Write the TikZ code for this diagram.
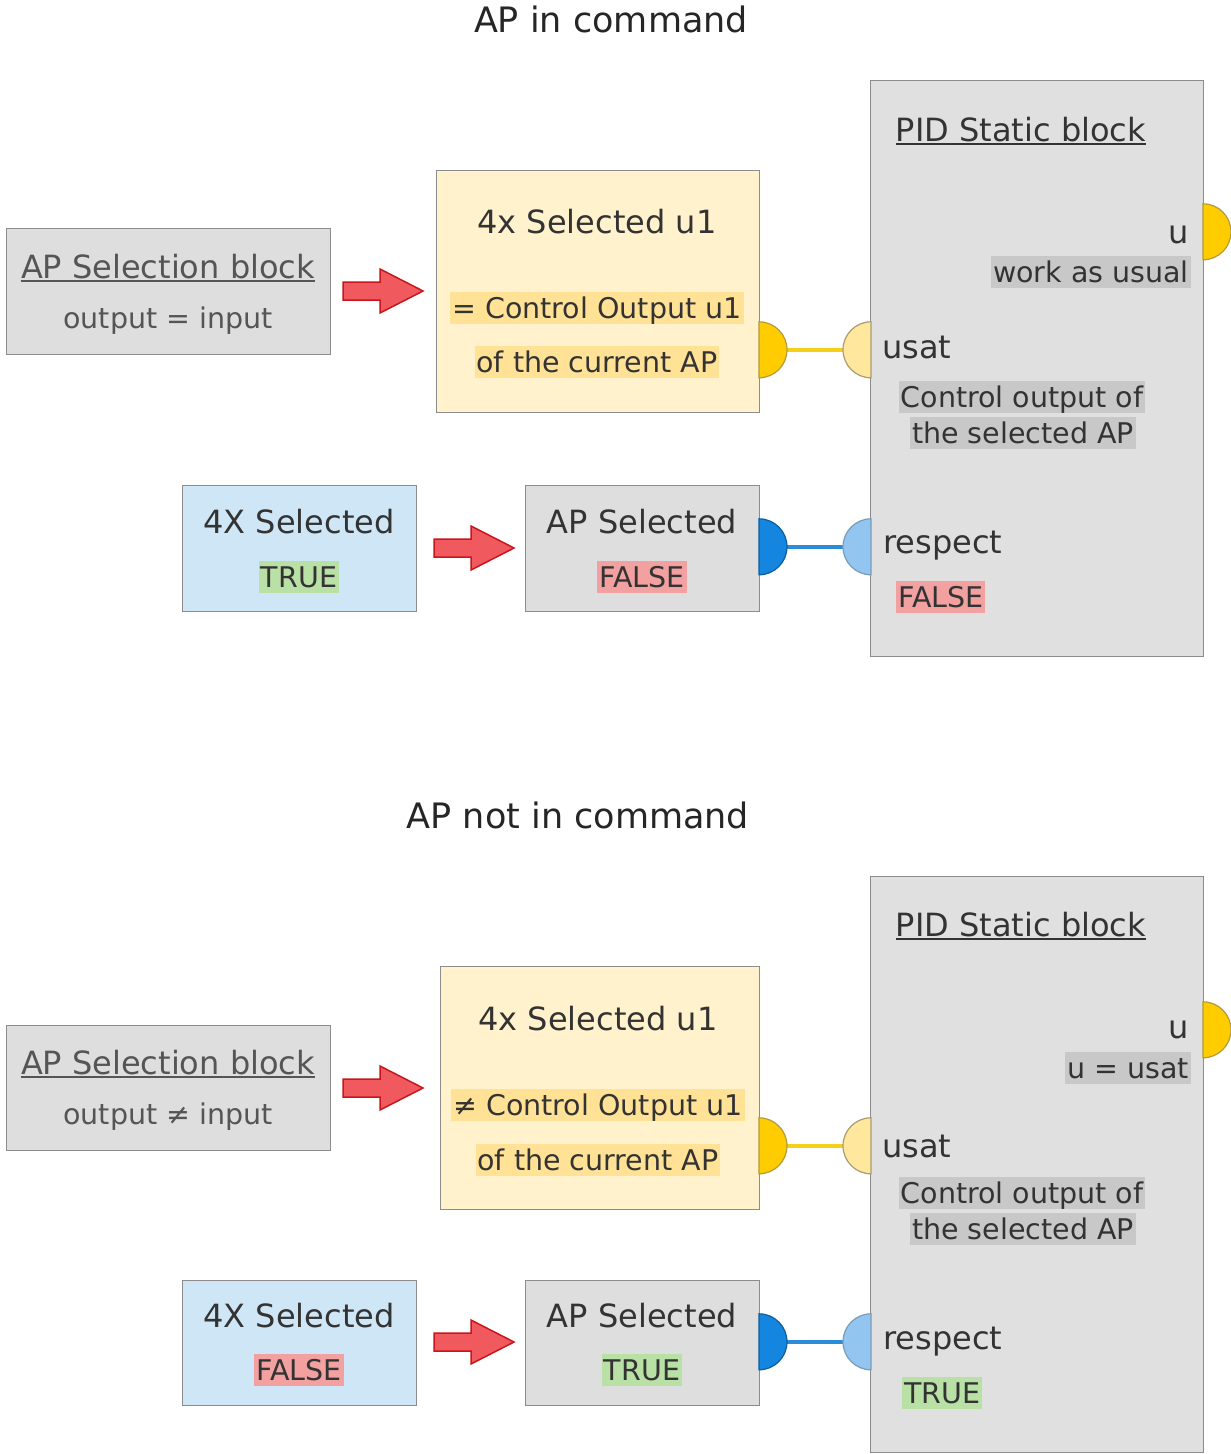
\documentclass[tikz,border=0pt]{standalone}
\usepackage{fontspec}
\setmainfont{DejaVu Sans}
\usetikzlibrary{calc}
\definecolor{gfill}{HTML}{DEDEDE}
\definecolor{gline}{HTML}{8C8C8C}
\definecolor{pidfill}{HTML}{E0E0E0}
\definecolor{yfill}{HTML}{FFF2CC}
\definecolor{hly}{HTML}{FFE296}
\definecolor{hlg}{HTML}{C8C8C8}
\definecolor{hlr}{HTML}{F2A0A0}
\definecolor{hlgreen}{HTML}{B9E0A5}
\definecolor{bfill}{HTML}{CFE6F7}
\definecolor{gold}{HTML}{FFCC00}
\definecolor{goldline}{HTML}{B59A3C}
\definecolor{lgold}{HTML}{FFE89E}
\definecolor{lgoldline}{HTML}{A89C70}
\definecolor{blued}{HTML}{1486E0}
\definecolor{bluel}{HTML}{92C6F0}
\definecolor{bluelline}{HTML}{7A9CB8}
\definecolor{blueline}{HTML}{2B8CD8}
\definecolor{yconnc}{HTML}{F5CF19}
\definecolor{txt}{HTML}{333333}
\definecolor{subtxt}{HTML}{555555}
\definecolor{arrred}{HTML}{F05A5E}
\definecolor{arrline}{HTML}{C8161D}
\newcommand{\blockarr}[2]{%
  \draw[redarr] (#1-80,#2-9) -- (#1-43,#2-9) -- (#1-43,#2-22) -- (#1,#2)
     -- (#1-43,#2+22) -- (#1-43,#2+9) -- (#1-80,#2+9) -- cycle;}
\begin{document}
\begin{tikzpicture}[x=1pt,y=-1pt,
  box/.style={draw=gline, line width=1.3pt, inner sep=0, anchor=north west},
  main/.style={font=\fontsize{32}{38}\selectfont, text=txt, inner sep=0, anchor=base},
  sub/.style={font=\fontsize{28.5}{34}\selectfont, text=txt, inner sep=0, anchor=base},
  titletext/.style={font=\fontsize{35}{42}\selectfont, text=black!85, inner sep=0, anchor=base},
  hl/.style={inner xsep=2pt, inner ysep=0pt, text height=26pt, text depth=6pt},
  uline/.style={draw=txt, line width=1.3pt},
  port/.style={circle, minimum size=56pt, inner sep=0},
  redarr/.style={fill=arrred, draw=arrline, line width=1.5pt, line join=miter},
  yconn/.style={draw=yconnc, line width=3.5pt},
  bconn/.style={draw=blueline, line width=3.5pt},
  goldR/.style={fill=gold, draw=goldline, line width=1.2pt},
  goldL/.style={fill=lgold, draw=lgoldline, line width=1.2pt},
  blueR/.style={fill=blued, draw=blued!70!black, line width=1.2pt},
  blueL/.style={fill=bluel, draw=bluelline, line width=1.2pt}]
\useasboundingbox[fill=white] (0,0) rectangle (1231,1454);

% ================= TOP HALF =================
\node[titletext] (t0) at (611,32) {AP in command};

% AP selection block
\node[box, fill=gfill, minimum width=324pt, minimum height=126pt] (tSel) at (6,228) {};
\node[main, text=subtxt] (tSelT) at (168,278) {AP Selection block};
\draw[uline, draw=subtxt] ($(tSelT.base west)+(0,3)$) -- ($(tSelT.base east)+(0,3)$);
\node[sub, text=subtxt] (tSelS) at (168,328) {output = input};
\blockarr{423}{291}

% yellow block
\node[box, fill=yfill, minimum width=323pt, minimum height=242pt] (tY) at (436,170) {};
\node[main] (tYT) at (597,233) {4x Selected u1};
\node[sub, hl, fill=hly] (tYA) at (597,318) {= Control Output u1};
\node[sub, hl, fill=hly] (tYB) at (597,372) {of the current AP};

% PID block
\node[box, fill=pidfill, minimum width=333pt, minimum height=576pt] (tP) at (870,80) {};
\node[main] (tPT) at (1021,141) {PID Static block};
\draw[uline] ($(tPT.base west)+(0,3)$) -- ($(tPT.base east)+(0,3)$);
\node[main, anchor=base east] (tPu) at (1189,243) {u};
\node[sub, hl, fill=hlg, anchor=base east] (tPw) at (1191,282) {work as usual};
\node[main, anchor=base west] (tPusat) at (882,358) {usat};
\node[sub, hl, fill=hlg] (tPc1) at (1022,407) {Control output of};
\node[sub, hl, fill=hlg] (tPc2) at (1023,443) {the selected AP};
\node[main, anchor=base west] (tPr) at (883,553) {respect};
\node[sub, hl, fill=hlr, anchor=base west] (tPf) at (896,607) {FALSE};

% 4X selected / AP selected
\node[box, fill=bfill, minimum width=234pt, minimum height=126pt] (tX) at (182,485) {};
\node[main] (tXT) at (299,533) {4X Selected};
\node[sub, hl, fill=hlgreen] (tXV) at (299,587) {TRUE};
\blockarr{514}{548}
\node[box, fill=gfill, minimum width=234pt, minimum height=126pt] (tA) at (525,485) {};
\node[main] (tAT) at (642,533) {AP Selected};
\node[sub, hl, fill=hlr] (tAV) at (642,587) {FALSE};

% ports and connectors
\node[port] (tYo) at (759,350) {};
\node[port] (tYi) at (871,350) {};
\node[port] (tPo) at (1203,232) {};
\node[port] (tBo) at (759,547) {};
\node[port] (tBi) at (871,547) {};
\draw[yconn] (tYo.east) -- (tYi.west);
\draw[bconn] (tBo.east) -- (tBi.west);
\draw[goldR] (tYo.north) arc[start angle=90, end angle=-90, radius=28pt] -- cycle;
\draw[goldL] (tYi.north) arc[start angle=90, end angle=270, radius=28pt] -- cycle;
\draw[goldR] (tPo.north) arc[start angle=90, end angle=-90, radius=28pt] -- cycle;
\draw[blueR] (tBo.north) arc[start angle=90, end angle=-90, radius=28pt] -- cycle;
\draw[blueL] (tBi.north) arc[start angle=90, end angle=270, radius=28pt] -- cycle;

% ================= BOTTOM HALF =================
\node[titletext] (b0) at (578,828) {AP not in command};

\node[box, fill=gfill, minimum width=324pt, minimum height=125pt] (bSel) at (6,1025) {};
\node[main, text=subtxt] (bSelT) at (168,1074) {AP Selection block};
\draw[uline, draw=subtxt] ($(bSelT.base west)+(0,3)$) -- ($(bSelT.base east)+(0,3)$);
\node[sub, text=subtxt] (bSelS) at (168,1124) {output ≠ input};
\blockarr{423}{1088}

\node[box, fill=yfill, minimum width=319pt, minimum height=243pt] (bY) at (440,966) {};
\node[main] (bYT) at (598,1030) {4x Selected u1};
\node[sub, hl, fill=hly] (bYA) at (598,1115) {≠ Control Output u1};
\node[sub, hl, fill=hly] (bYB) at (598,1170) {of the current AP};

\node[box, fill=pidfill, minimum width=333pt, minimum height=576pt] (bP) at (870,876) {};
\node[main] (bPT) at (1021,936) {PID Static block};
\draw[uline] ($(bPT.base west)+(0,3)$) -- ($(bPT.base east)+(0,3)$);
\node[main, anchor=base east] (bPu) at (1189,1038) {u};
\node[sub, hl, fill=hlg, anchor=base east] (bPw) at (1191,1078) {u = usat};
\node[main, anchor=base west] (bPusat) at (882,1157) {usat};
\node[sub, hl, fill=hlg] (bPc1) at (1022,1203) {Control output of};
\node[sub, hl, fill=hlg] (bPc2) at (1023,1239) {the selected AP};
\node[main, anchor=base west] (bPr) at (883,1349) {respect};
\node[sub, hl, fill=hlgreen, anchor=base west] (bPf) at (902,1403) {TRUE};

\node[box, fill=bfill, minimum width=234pt, minimum height=125pt] (bX) at (182,1280) {};
\node[main] (bXT) at (299,1327) {4X Selected};
\node[sub, hl, fill=hlr] (bXV) at (299,1380) {FALSE};
\blockarr{514}{1342}
\node[box, fill=gfill, minimum width=234pt, minimum height=125pt] (bA) at (525,1280) {};
\node[main] (bAT) at (642,1327) {AP Selected};
\node[sub, hl, fill=hlgreen] (bAV) at (642,1380) {TRUE};

\node[port] (bYo) at (759,1146) {};
\node[port] (bYi) at (871,1146) {};
\node[port] (bPo) at (1203,1030) {};
\node[port] (bBo) at (759,1342) {};
\node[port] (bBi) at (871,1342) {};
\draw[yconn] (bYo.east) -- (bYi.west);
\draw[bconn] (bBo.east) -- (bBi.west);
\draw[goldR] (bYo.north) arc[start angle=90, end angle=-90, radius=28pt] -- cycle;
\draw[goldL] (bYi.north) arc[start angle=90, end angle=270, radius=28pt] -- cycle;
\draw[goldR] (bPo.north) arc[start angle=90, end angle=-90, radius=28pt] -- cycle;
\draw[blueR] (bBo.north) arc[start angle=90, end angle=-90, radius=28pt] -- cycle;
\draw[blueL] (bBi.north) arc[start angle=90, end angle=270, radius=28pt] -- cycle;
\end{tikzpicture}
\end{document}
